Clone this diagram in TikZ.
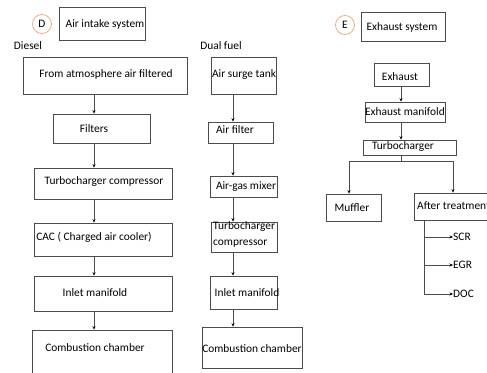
\documentclass[tikz,border=0pt]{standalone}
\usepackage{fontspec}
\setmainfont{Carlito}
\usetikzlibrary{arrows.meta}
\begin{document}
\begin{tikzpicture}[x=1pt,y=-1pt,
  box/.style={draw=black!70,line width=0.7pt,inner sep=0pt,rectangle},
  txt/.style={font=\fontsize{11.4}{13.5}\selectfont,inner sep=0pt,text=black},
  arr/.style={draw=black!70,line width=0.6pt,-{Stealth[length=3.5pt,width=3pt,color=black]}},
  ln/.style={draw=black!70,line width=0.6pt},
  circ/.style={draw={rgb,255:red,240;green,175;blue,135},line width=0.8pt,circle,minimum size=19pt,inner sep=0pt,font=\fontsize{11.4}{13.5}\selectfont}]
\useasboundingbox (0,0) rectangle (487,372);
\clip (0,0) rectangle (487,372);
\fill[white] (0,0) rectangle (487,372);
% ---- D : air intake
\node[circ] (dc) at (42,24) {D};
\node[box,minimum width=86pt,minimum height=33pt] (d0) at (102,23.5) {};
\node[txt] (d0t) at (105,24) {Air intake system};
\node[txt] (diesel) at (28,46) {Diesel};
\node[txt] (dual) at (221,46) {Dual fuel};
% diesel column
\node[box,minimum width=164pt,minimum height=37pt] (d1) at (105,75.5) {};
\node[box,minimum width=97pt,minimum height=29pt] (d2) at (101.5,128.5) {};
\node[box,minimum width=138pt,minimum height=31pt] (d3) at (103,183.5) {};
\node[box,minimum width=138pt,minimum height=33pt] (d4) at (103,239.5) {};
\node[box,minimum width=138pt,minimum height=35pt] (d5) at (103,293.5) {};
\node[box,minimum width=140pt,minimum height=50pt] (d6) at (102,355) {};
\node[txt] at (106,74) {From atmosphere air filtered};
\node[txt] at (94,129) {Filters};
\node[txt] at (104,182) {Turbocharger compressor};
\node[txt] at (94,237) {CAC ( Charged air cooler)};
\node[txt] at (95,293) {Inlet manifold};
\node[txt] at (95,348) {Combustion chamber};
\coordinate (dx) at (94,0);
\draw[arr] (d1.south -| dx) -- (d2.north -| dx);
\draw[arr] (d2.south -| dx) -- (d3.north -| dx);
\draw[arr] (d3.south -| dx) -- (d4.north -| dx);
\draw[arr] (d4.south -| dx) -- (d5.north -| dx);
\draw[arr] (d5.south -| dx) -- (d6.north -| dx);
% dual fuel column
\node[box,minimum width=65pt,minimum height=37pt] (f1) at (243.5,75.5) {};
\node[box,minimum width=65pt,minimum height=21pt] (f2) at (240.5,132.5) {};
\node[box,minimum width=67pt,minimum height=21pt] (f3) at (243.5,186.5) {};
\node[box,minimum width=66pt,minimum height=30pt] (f4) at (244,237) {};
\node[box,minimum width=67pt,minimum height=33pt] (f5) at (243.5,292.5) {};
\node[box,minimum width=100pt,minimum height=41pt] (f6) at (252,347.5) {};
\node[txt] at (244,75) {Air surge tank};
\node[txt] at (235,130) {Air filter};
\node[txt] at (246,187) {Air-gas mixer};
\node[txt,anchor=west] at (213,227) {Turbocharger};
\node[txt,anchor=west] at (213,244) {compressor};
\node[txt] at (247,293) {Inlet manifold};
\node[txt] at (252,349) {Combustion chamber};
\coordinate (fx) at (233,0);
\draw[arr] (f1.south -| fx) -- (f2.north -| fx);
\draw[arr] (f2.south -| fx) -- (f3.north -| fx);
\draw[arr] (f3.south -| fx) -- (f4.north -| fx);
\draw[arr] (f4.south -| fx) -- (f5.north -| fx);
\draw[arr] (f5.south -| fx) -- (f6.north -| fx);
% ---- E : exhaust
\node[circ] (ec) at (345,25) {E};
\node[box,minimum width=84pt,minimum height=29pt] (e0) at (403,26.5) {};
\node[txt] at (402,27) {Exhaust system};
\node[box,minimum width=55pt,minimum height=23pt] (e1) at (401.5,74.5) {};
\node[box,minimum width=80pt,minimum height=20pt] (e2) at (405,112) {};
\node[box,minimum width=93pt,minimum height=15pt] (e3) at (409.5,147.5) {};
\node[box,minimum width=55pt,minimum height=27pt] (e4) at (353.5,207.5) {};
\node[box,minimum width=92pt,minimum height=27pt] (e5) at (460,206.5) {};
\node[txt] at (400,77) {Exhaust};
\node[txt] at (405,112) {Exhaust manifold};
\node[txt] at (403,147) {Turbocharger};
\node[txt] at (352,208) {Muffler};
\node[txt,anchor=west] at (417,206) {After treatment};
\coordinate (ex) at (401,0);
\coordinate (j) at (401,161);
\coordinate (mx) at (349,0);
\coordinate (ax) at (453,0);
\draw[arr] (e1.south -| ex) -- (e2.north -| ex);
\draw[arr] (e2.south -| ex) -- (e3.north -| ex);
\draw[ln] (e3.south -| ex) -- (j);
\draw[arr] (j) -| (e4.north -| mx);
\draw[arr] (j) -| (e5.north -| ax);
\node[txt,anchor=west] (scr) at (453,237) {SCR};
\node[txt,anchor=west] (egr) at (453,265) {EGR};
\node[txt,anchor=west] (doc) at (453,294) {DOC};
\coordinate (tx) at (424,0);
\draw[ln] (e5.south -| tx) -- (doc.west -| tx);
\draw[arr] (scr.west -| tx) -- (scr.west);
\draw[arr] (egr.west -| tx) -- (egr.west);
\draw[arr] (doc.west -| tx) -- (doc.west);
\end{tikzpicture}
\end{document}
